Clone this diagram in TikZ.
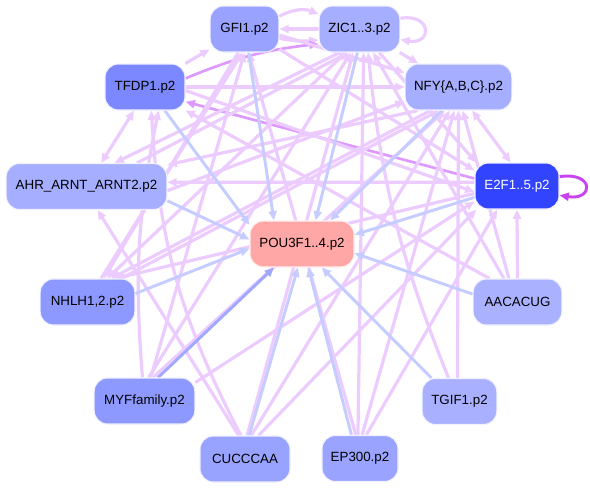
\documentclass[tikz,border=0pt]{standalone}
\usepackage{fontspec}
\setsansfont{Liberation Sans}
\usetikzlibrary{arrows.meta,backgrounds}
\definecolor{grnpou}{HTML}{FFA6A6}
\definecolor{grnpink}{HTML}{ECCCFF}
\definecolor{grnviolet}{HTML}{DD99FF}
\definecolor{grnloop}{HTML}{C844F0}
\definecolor{grnblue}{HTML}{C5CCFF}
\definecolor{grnbluedk}{HTML}{A0A8FF}
\tikzset{
  grnnode/.style={draw=blue!6,line width=0.8pt,rounded corners=10pt,minimum height=34.5pt,inner sep=2pt,font=\sffamily\fontsize{10}{12}\selectfont,text=black},
  tfedge/.style={-{Triangle[length=7pt,width=6pt]},line width=2.4pt,draw=grnpink},
  tfboth/.style={{Triangle[length=7pt,width=6pt]}-{Triangle[length=7pt,width=6pt]},line width=2.4pt,draw=grnpink},
  tfdark/.style={tfedge,draw=grnviolet,line width=2pt},
  poedge/.style={-{Triangle[length=7pt,width=6pt]},line width=2.2pt,draw=grnblue},
}
\begin{document}
\begin{tikzpicture}[x=0.75pt,y=-0.75pt]
\useasboundingbox (0,0) rectangle (590,489);
% transcription factor nodes
\node[grnnode,fill={rgb,255:red,153;green,162;blue,255},minimum width=51.5pt] (gfi) at (244.5,29) {GFI1.p2};
\node[grnnode,fill={rgb,255:red,166;green,174;blue,255},minimum width=60.5pt] (zic) at (359.5,29) {ZIC1..3.p2};
\node[grnnode,fill={rgb,255:red,124;green,136;blue,255},minimum width=60pt] (tfdp) at (145,87) {TFDP1.p2};
\node[grnnode,fill={rgb,255:red,166;green,174;blue,255},minimum width=80pt] (nfy) at (458.5,87) {NFY\{A,B,C\}.p2};
\node[grnnode,fill={rgb,255:red,166;green,174;blue,255},minimum width=120.5pt] (ahr) at (86.5,186.5) {AHR\_ARNT\_ARNT2.p2};
\node[grnnode,fill={rgb,255:red,51;green,68;blue,255},minimum width=63pt,text=white] (e2f) at (517,186) {E2F1..5.p2};
\node[grnnode,fill=grnpou,draw=red!6,minimum width=78pt] (pou) at (302,244) {POU3F1..4.p2};
\node[grnnode,fill={rgb,255:red,142;green,153;blue,255},minimum width=71pt] (nhlh) at (87.5,302) {NHLH1,2.p2};
\node[grnnode,fill={rgb,255:red,170;green,178;blue,255},minimum width=66.5pt] (aac) at (517.5,302) {AACACUG};
\node[grnnode,fill={rgb,255:red,142;green,153;blue,255},minimum width=75.5pt] (myf) at (144.5,401) {MYFfamily.p2};
\node[grnnode,fill={rgb,255:red,168;green,176;blue,255},minimum width=56pt] (tgif) at (459.5,401.5) {TGIF1.p2};
\node[grnnode,fill={rgb,255:red,152;green,162;blue,255},minimum width=67.5pt] (cuc) at (245,459) {CUCCCAA};
\node[grnnode,fill={rgb,255:red,154;green,163;blue,255},minimum width=57pt] (ep) at (360,458.5) {EP300.p2};

\begin{scope}[on background layer]
% regulator to regulator
\draw[tfedge] (gfi.20) to[bend left=25] (zic.160);
\draw[tfedge] (zic) to (gfi);
\draw[tfedge] (gfi.-15) to[bend right=8] (zic.-165);
\draw[tfedge] ([yshift=8pt]zic.east) .. controls +(24pt,4pt) and +(24pt,-4pt) .. ([yshift=-8pt]zic.east);
\draw[tfedge] (zic) -- (nfy);
\draw[tfedge] (tfdp) -- (gfi);
\draw[tfdark] (tfdp.12) to[bend left=8] (zic.-160);
\draw[tfdark] (e2f.170) -- (tfdp.-20);
\draw[tfedge] (tfdp) -- (nfy);
\draw[tfboth] (tfdp.-115) -- (ahr.58);
\draw[tfboth] (nfy.-60) -- (e2f.105);
\draw[-{Triangle[length=7pt,width=6pt]},line width=2.2pt,draw=grnloop] ([yshift=7pt]e2f.east) .. controls +(26pt,4pt) and +(26pt,-4pt) .. ([yshift=-7pt]e2f.east);
\draw[tfedge] (e2f.175) -- (ahr.3);
\draw[tfedge] (nfy.-150) -- (ahr.15);
\draw[tfedge] (zic.-130) -- (ahr.40);
\draw[tfedge] (gfi.-10) -- (nfy.165);
\draw[tfedge] (ahr.-3) -- (nfy.-165);
\draw[tfedge] (ahr.25) -- (zic.-115);
\draw[tfedge] (gfi.-30) -- (e2f.160);
\draw[tfedge] (zic.-50) -- (e2f.150);
\draw[tfedge] (tfdp.-5) -- (e2f.-172);
\draw[tfedge] (gfi.-105) -- (nhlh.55);
\draw[tfedge] (zic.-120) -- (nhlh.50);
\draw[tfedge] (nfy.-140) -- (nhlh.45);
\draw[tfedge] (e2f.-170) -- (nhlh.40);
\draw[tfedge] (nhlh.60) -- (gfi.-95);
\draw[tfedge] (nhlh.35) -- (nfy.-130);
% lower regulators
\draw[tfedge] (cuc.105) -- (ahr.-65);
\draw[tfedge] (cuc.100) to[bend left=12] (tfdp.-75);
\draw[tfedge] (cuc.75) -- (nfy.-110);
\draw[tfedge] (cuc.60) -- (e2f.-150);
\draw[tfedge] (cuc.85) -- (zic.-105);
\draw[tfedge] (myf.75) -- (gfi.-90);
\draw[tfedge] (myf.80) -- (zic.-110);
\draw[tfedge] (myf.70) -- (nfy.-120);
\draw[tfedge] (myf.95) to[bend left=8] (tfdp.-60);
\draw[tfedge] (myf.20) -- (e2f.-160);
\draw[tfedge] (ep.95) -- (zic.-80);
\draw[tfedge] (ep.85) -- (nfy.-100);
\draw[tfedge] (ep.75) -- (e2f.-130);
\draw[tfedge] (ep.100) -- (gfi.-80);
\draw[tfedge] (tgif.115) to[bend left=8] (zic.-70);
\draw[tfedge] (tgif.95) -- (nfy.-90);
\draw[tfedge] (aac.90) -- (e2f.-90);
\draw[tfedge] (aac.140) -- (tfdp.-30);
\draw[tfedge] (aac.120) -- (zic.-60);
\draw[tfedge] (aac.110) -- (nfy.-80);
% all regulators to POU3F1..4
\draw[poedge] (gfi.-80) -- (pou.140);
\draw[poedge] (zic.-95) -- (pou.60);
\draw[poedge] (tfdp.-50) -- (pou.160);
\draw[poedge] (nfy.-125) -- (pou.40);
\draw[poedge] (ahr.-10) -- (pou.175);
\draw[poedge] (e2f.-165) -- (pou.10);
\draw[poedge] (nhlh.10) -- (pou.-175);
\draw[poedge,draw=grnbluedk] (myf.60) -- (pou.-140);
\draw[poedge] (cuc.80) -- (pou.-100);
\draw[poedge] (ep.110) -- (pou.-75);
\draw[poedge] (tgif.140) -- (pou.-50);
\draw[poedge] (aac.170) -- (pou.-10);
\end{scope}
\end{tikzpicture}
\end{document}
